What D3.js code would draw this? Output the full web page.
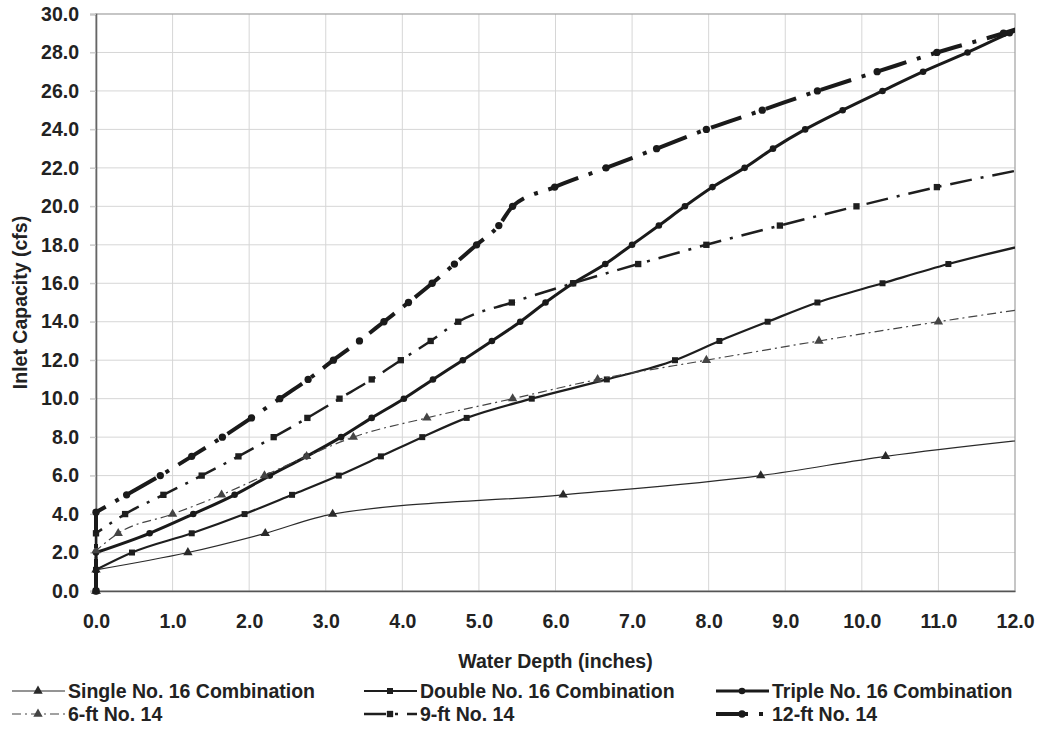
<!DOCTYPE html>
<html>
<head>
<meta charset="utf-8">
<script src="https://cdn.jsdelivr.net/npm/d3@7"></script>
<style>
  body { margin: 0; background: #fff; }
  svg text { font-family: "Liberation Sans", Arial, sans-serif; font-weight: bold; fill: #222; }
</style>
</head>
<body>
<svg id="chart" width="1037" height="729"></svg>
<script>
// Series names (legend order)
var SeriesNames = ["Single No. 16 Combination", "Double No. 16 Combination", "Triple No. 16 Combination",
                   "6-ft No. 14", "9-ft No. 14", "12-ft No. 14"];
// Axis ticks
var DepthTicks = [0, 1, 2, 3, 4, 5, 6, 7, 8, 9, 10, 11, 12];
var CapacityTicks = [0, 2, 4, 6, 8, 10, 12, 14, 16, 18, 20, 22, 24, 26, 28, 30];
// Water depth (inches) and inlet capacity (cfs)
var SingleDepth = [0, 0, 1.2, 2.21, 3.09, 6.1, 8.68, 10.31, 12.45];
var SingleCapacity = [0, 1.1, 2, 3, 4, 5, 6, 7, 8];
var DoubleDepth = [0, 0, 0.47, 1.25, 1.94, 2.56, 3.17, 3.72, 4.26, 4.84, 5.69, 6.67, 7.56, 8.14, 8.77, 9.42, 10.27, 11.13, 12.15];
var DoubleCapacity = [0, 1.1, 2, 3, 4, 5, 6, 7, 8, 9, 10, 11, 12, 13, 14, 15, 16, 17, 18];
var TripleDepth = [0, 0, 0.70, 1.27, 1.81, 2.27, 2.75, 3.2, 3.6, 4.02, 4.40, 4.79, 5.17, 5.54, 5.87, 6.23, 6.65, 7.0, 7.35, 7.69, 8.05, 8.47, 8.84, 9.26, 9.75, 10.27, 10.8, 11.38, 11.93, 12.6];
var TripleCapacity = [0, 2, 3, 4, 5, 6, 7, 8, 9, 10, 11, 12, 13, 14, 15, 16, 17, 18, 19, 20, 21, 22, 23, 24, 25, 26, 27, 28, 29, 30];
var SixFtDepth = [0, 0, 0.29, 1.0, 1.64, 2.2, 2.75, 3.36, 4.32, 5.44, 6.55, 7.97, 9.44, 11.0, 12.7];
var SixFtCapacity = [0, 2.1, 3, 4, 5, 6, 7, 8, 9, 10, 11, 12, 13, 14, 15];
var NineFtDepth = [0, 0, 0.38, 0.88, 1.38, 1.86, 2.32, 2.76, 3.18, 3.6, 3.98, 4.37, 4.73, 5.43, 6.23, 7.08, 7.97, 8.93, 9.93, 10.98, 12.2];
var NineFtCapacity = [0, 3, 4, 5, 6, 7, 8, 9, 10, 11, 12, 13, 14, 15, 16, 17, 18, 19, 20, 21, 22];
var TwelveFtDepth = [0, 0, 0.40, 0.84, 1.25, 1.65, 2.03, 2.4, 2.77, 3.1, 3.44, 3.76, 4.08, 4.39, 4.68, 4.97, 5.26, 5.44, 5.99, 6.66, 7.32, 7.97, 8.7, 9.42, 10.2, 10.98, 11.85, 12.6];
var TwelveFtCapacity = [0, 4.1, 5, 6, 7, 8, 9, 10, 11, 12, 13, 14, 15, 16, 17, 18, 19, 20, 21, 22, 23, 24, 25, 26, 27, 28, 29, 30];

// Styles per series
var Styles = [
    { Width: 1.2, Dash: null, Symbol: d3.symbolTriangle, Size: 38, Color: "#2a2a2a" },
    { Width: 2.2, Dash: null, Symbol: d3.symbolSquare, Size: 36, Color: "#1e1e1e" },
    { Width: 3, Dash: null, Symbol: d3.symbolCircle, Size: 34, Color: "#1a1a1a" },
    { Width: 1.2, Dash: "9,4,2,4", Symbol: d3.symbolTriangle, Size: 38, Color: "#444" },
    { Width: 2.5, Dash: "22,9,3,9", Symbol: d3.symbolSquare, Size: 40, Color: "#1e1e1e" },
    { Width: 4, Dash: "32,11,4,11", Symbol: d3.symbolCircle, Size: 42, Color: "#1a1a1a" }
];
var Depths = [SingleDepth, DoubleDepth, TripleDepth, SixFtDepth, NineFtDepth, TwelveFtDepth];
var Capacities = [SingleCapacity, DoubleCapacity, TripleCapacity, SixFtCapacity, NineFtCapacity, TwelveFtCapacity];
var Series = SeriesNames.map((Name, I) => ({
    Name: Name, Style: Styles[I],
    Points: Depths[I].map((D, J) => ({ X: D, Y: Capacities[I][J] }))
}));

var FontSize = 19.5;
var SVG = d3.select("#chart");
var X = d3.scaleLinear().domain([0, 12]).range([96, 1015]);
var Y = d3.scaleLinear().domain([0, 30]).range([591, 14]);

// Grid
SVG.append("g").selectAll("line").data(DepthTicks.slice(1, -1)).enter().append("line")
    .attr("x1", D => X(D)).attr("x2", D => X(D)).attr("y1", Y(30)).attr("y2", Y(0))
    .attr("stroke", "#d6d6d6").attr("stroke-width", 1);
SVG.append("g").selectAll("line").data(CapacityTicks.slice(1, -1)).enter().append("line")
    .attr("x1", X(0) - 6).attr("x2", X(12)).attr("y1", C => Y(C)).attr("y2", C => Y(C))
    .attr("stroke", "#d6d6d6").attr("stroke-width", 1);
// Border
SVG.append("rect").attr("x", X(0)).attr("y", Y(30)).attr("width", X(12) - X(0)).attr("height", Y(0) - Y(30))
    .attr("fill", "none").attr("stroke", "#a0a0a0").attr("stroke-width", 1.2);

// Axes
var XAxis = SVG.append("g").attr("transform", `translate(0,${Y(0)})`)
    .call(d3.axisBottom(X).tickValues(DepthTicks).tickFormat(d3.format(".1f")).tickSize(0).tickPadding(23));
XAxis.select(".domain").attr("stroke", "#555").attr("stroke-width", 1.6);
XAxis.selectAll("text").attr("font-size", FontSize).attr("fill", "#222");
var YAxis = SVG.append("g").attr("transform", `translate(${X(0)},0)`)
    .call(d3.axisLeft(Y).tickValues(CapacityTicks).tickFormat(d3.format(".1f")).tickSize(6).tickPadding(11));
YAxis.select(".domain").attr("stroke", "#666").attr("stroke-width", 1.6);
YAxis.selectAll(".tick line").attr("stroke", "#c8c8c8");
YAxis.selectAll("text").attr("font-size", FontSize).attr("fill", "#222");

// Axis titles
SVG.append("text").attr("x", (X(0) + X(12)) / 2).attr("y", 661).attr("text-anchor", "middle")
    .attr("dominant-baseline", "central").attr("font-size", FontSize).text("Water Depth (inches)");
SVG.append("text").attr("transform", `translate(20,${(Y(0) + Y(30)) / 2}) rotate(-90)`)
    .attr("text-anchor", "middle").attr("dominant-baseline", "central").attr("font-size", FontSize)
    .text("Inlet Capacity (cfs)");

// Clip to the right edge of the plot
SVG.append("clipPath").attr("id", "plot-clip").append("rect")
    .attr("x", 0).attr("y", 0).attr("width", X(12)).attr("height", Y(0) + 10);

// Vertical rise at zero depth is straight, the rest is smoothed
var Smooth = d3.line().x(P => X(P.X)).y(P => Y(P.Y)).curve(d3.curveMonotoneX);
var Straight = d3.line().x(P => X(P.X)).y(P => Y(P.Y));
var Plot = SVG.append("g").attr("clip-path", "url(#plot-clip)");
Series.forEach(S => {
    var G = Plot.append("g");
    var PathD = Straight(S.Points.slice(0, 2)) + Smooth(S.Points.slice(1)).replace(/^M[^LC]*/, "");
    G.append("path").attr("d", PathD)
        .attr("fill", "none").attr("stroke", S.Style.Color).attr("stroke-width", S.Style.Width)
        .attr("stroke-dasharray", S.Style.Dash).attr("stroke-linejoin", "round");
    G.selectAll("path.marker").data(S.Points).enter().append("path").attr("class", "marker")
        .attr("transform", P => `translate(${X(P.X)},${Y(P.Y)})`)
        .attr("d", d3.symbol().type(S.Style.Symbol).size(S.Style.Size))
        .attr("fill", S.Style.Color);
});

// Legend
var LegendColumns = [12, 364, 716];
var LegendRows = [691, 714];
Series.forEach((S, I) => {
    var LX = LegendColumns[I % 3], LY = LegendRows[Math.floor(I / 3)];
    var G = SVG.append("g").attr("transform", `translate(${LX},${LY})`);
    G.append("line").attr("x1", 0).attr("x2", 53).attr("y1", 0).attr("y2", 0)
        .attr("stroke", S.Style.Color).attr("stroke-width", S.Style.Width)
        .attr("stroke-dasharray", S.Style.Dash);
    G.append("path").attr("transform", "translate(26,0)")
        .attr("d", d3.symbol().type(S.Style.Symbol).size(S.Style.Size)).attr("fill", S.Style.Color);
    G.append("text").attr("x", 56).attr("y", 0).attr("dominant-baseline", "central")
        .attr("font-size", FontSize).text(S.Name);
});
</script>
</body>
</html>
